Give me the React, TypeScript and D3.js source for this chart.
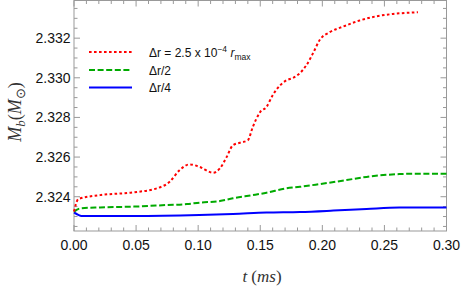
import React, {useEffect, useRef} from 'react';
import * as d3 from 'd3';

// t in ms, Mb in solar masses
const redT = [0, 0.0035, 0.021, 0.048, 0.0665, 0.077, 0.085, 0.093, 0.101, 0.112, 0.1175, 0.123, 0.128, 0.1336, 0.140, 0.144, 0.150, 0.155, 0.160, 0.166, 0.171, 0.1765, 0.182, 0.187, 0.193, 0.198, 0.206, 0.217, 0.230, 0.244, 0.257, 0.277];
const redM = [2.32325, 2.32388, 2.32408, 2.32422, 2.32442, 2.32475, 2.32534, 2.32563, 2.32551, 2.32521, 2.32543, 2.32601, 2.3266, 2.32672, 2.32685, 2.32752, 2.32828, 2.32853, 2.32912, 2.32962, 2.32987, 2.33000, 2.33024, 2.33062, 2.3313, 2.33192, 2.3323, 2.33259, 2.33289, 2.33311, 2.33322, 2.33331];

const greenT = [0, 0.005, 0.021, 0.048, 0.0746, 0.091, 0.101, 0.1175, 0.128, 0.144, 0.155, 0.171, 0.182, 0.198, 0.2195, 0.2356, 0.249, 0.262, 0.276, 0.30];
const greenM = [2.32325, 2.32341, 2.32346, 2.3235, 2.32358, 2.32363, 2.3237, 2.32378, 2.32392, 2.32408, 2.3242, 2.32442, 2.3245, 2.32464, 2.32484, 2.325, 2.32509, 2.32514, 2.32516, 2.32516];

const blueT = [0, 0.0035, 0.006, 0.048, 0.101, 0.128, 0.155, 0.182, 0.209, 0.2356, 0.262, 0.30];
const blueM = [2.32321, 2.32308, 2.32303, 2.32303, 2.32308, 2.32313, 2.3232, 2.32323, 2.3233, 2.32338, 2.32345, 2.32346];

const xTicks = [0, 0.05, 0.1, 0.15, 0.2, 0.25, 0.3];
const yTicks = [2.324, 2.326, 2.328, 2.330, 2.332];

function App() {
    const svgRef = useRef<SVGSVGElement>(null);

    const width = 463;
    const height = 288;
    const left = 74;
    const right = 446.5;
    const top = 0.5;
    const bottom = 231;

    useEffect(() => {
        const svg = d3.select(svgRef.current);
        svg.selectAll("*").remove();

        const xScale = d3.scaleLinear().domain([0, 0.3]).range([left, right]);
        const yScale = d3.scaleLinear().domain([2.32227, 2.3339]).range([bottom, top]);

        const frameColor = "#999";
        const tickFont = "Liberation Sans, Arial, sans-serif";

        // frame
        svg.append("rect")
            .attr("x", left).attr("y", top)
            .attr("width", right - left).attr("height", bottom - top)
            .attr("fill", "none").attr("stroke", frameColor).attr("stroke-width", 1);

        // x ticks (bottom + top mirror)
        const xMinor = d3.range(0, 31).map(i => i / 100);
        xMinor.forEach(v => {
            const major = Math.abs(v * 20 - Math.round(v * 20)) < 1e-6;
            const len = major ? 6 : 3.5;
            const x = xScale(v);
            svg.append("line").attr("x1", x).attr("x2", x).attr("y1", bottom).attr("y2", bottom - len)
                .attr("stroke", frameColor);
            svg.append("line").attr("x1", x).attr("x2", x).attr("y1", top).attr("y2", top + len)
                .attr("stroke", frameColor);
        });
        xTicks.forEach(v => {
            svg.append("text")
                .attr("x", xScale(v)).attr("y", 250)
                .attr("text-anchor", "middle")
                .attr("font-family", tickFont).attr("font-size", 14)
                .attr("fill", "#111")
                .text(v.toFixed(2));
        });

        // y ticks (left + right mirror)
        const yMinor = d3.range(0, 24).map(i => 2.3225 + i * 0.0005);
        yMinor.forEach(v => {
            if (v < 2.32227 || v > 2.3339) return;
            const k = (v - 2.324) / 0.002;
            const major = Math.abs(k - Math.round(k)) < 1e-6;
            const len = major ? 6 : 3.5;
            const y = yScale(v);
            svg.append("line").attr("x1", left).attr("x2", left + len).attr("y1", y).attr("y2", y)
                .attr("stroke", frameColor);
            svg.append("line").attr("x1", right).attr("x2", right - len).attr("y1", y).attr("y2", y)
                .attr("stroke", frameColor);
        });
        yTicks.forEach(v => {
            svg.append("text")
                .attr("x", 70.5).attr("y", yScale(v) + 5)
                .attr("text-anchor", "end")
                .attr("font-family", tickFont).attr("font-size", 14)
                .attr("fill", "#111")
                .text(v.toFixed(3));
        });

        // lines
        const line = d3.line<[number, number]>()
            .x(d => xScale(d[0]))
            .y(d => yScale(d[1]))
            .curve(d3.curveMonotoneX);

        const series = [
            {t: blueT, m: blueM, color: "#0000ff", dash: null},
            {t: greenT, m: greenM, color: "#00aa00", dash: "6,2.6"},
            {t: redT, m: redM, color: "#ff0000", dash: "2.6,2.4"},
        ];
        series.forEach(s => {
            const pts = s.t.map((t, i) => [t, s.m[i]] as [number, number]);
            svg.append("path")
                .attr("d", line(pts))
                .attr("fill", "none")
                .attr("stroke", s.color)
                .attr("stroke-width", 2)
                .attr("stroke-dasharray", s.dash);
        });

        // legend
        const legend = [
            {y: 52, color: "#ff0000", dash: "2.6,2.4"},
            {y: 70, color: "#00aa00", dash: "6,2.6"},
            {y: 87.5, color: "#0000ff", dash: null},
        ];
        legend.forEach(l => {
            svg.append("line")
                .attr("x1", 89).attr("x2", 132)
                .attr("y1", l.y).attr("y2", l.y)
                .attr("stroke", l.color).attr("stroke-width", 2)
                .attr("stroke-dasharray", l.dash);
        });

        const t1 = svg.append("text")
            .attr("x", 149).attr("y", 56.5)
            .attr("font-family", tickFont).attr("font-size", 12).attr("fill", "#111");
        t1.append("tspan").text("Δr = 2.5 x 10");
        t1.append("tspan").attr("dy", -5).attr("font-size", 8.5).text("−4");
        t1.append("tspan").attr("dy", 5).text(" ");
        t1.append("tspan").attr("font-style", "italic").text("r");
        t1.append("tspan").attr("dy", 3).attr("font-size", 8.5).text("max");

        svg.append("text")
            .attr("x", 149).attr("y", 74.5)
            .attr("font-family", tickFont).attr("font-size", 12).attr("fill", "#111")
            .text("Δr/2");
        svg.append("text")
            .attr("x", 149).attr("y", 92)
            .attr("font-family", tickFont).attr("font-size", 12).attr("fill", "#111")
            .text("Δr/4");

        // axis labels
        const xl = svg.append("text")
            .attr("x", 262).attr("y", 282)
            .attr("text-anchor", "middle")
            .attr("font-family", "Liberation Serif, Times New Roman, serif")
            .attr("font-size", 17).attr("fill", "#333");
        xl.append("tspan").attr("font-style", "italic").text("t");
        xl.append("tspan").text(" (");
        xl.append("tspan").attr("font-style", "italic").text("ms");
        xl.append("tspan").text(")");

        const yl = svg.append("text")
            .attr("transform", "translate(21,112) rotate(-90)")
            .attr("text-anchor", "middle")
            .attr("font-family", "Liberation Serif, Times New Roman, serif")
            .attr("font-size", 18).attr("fill", "#333");
        yl.append("tspan").attr("font-style", "italic").text("M");
        yl.append("tspan").attr("font-style", "italic").attr("dy", 4).attr("font-size", 13).text("b");
        yl.append("tspan").attr("dy", -4).text("(");
        yl.append("tspan").attr("font-style", "italic").text("M");
        yl.append("tspan").attr("dy", 4).attr("font-size", 13).text("⊙");
        yl.append("tspan").attr("dy", -4).text(")");
    }, []);

    return (
        <div style={{position: "absolute", left: 0, top: 0}}>
            <svg ref={svgRef} width={width} height={height} style={{display: "block", background: "#fff"}}></svg>
        </div>
    );
}

export default App;
